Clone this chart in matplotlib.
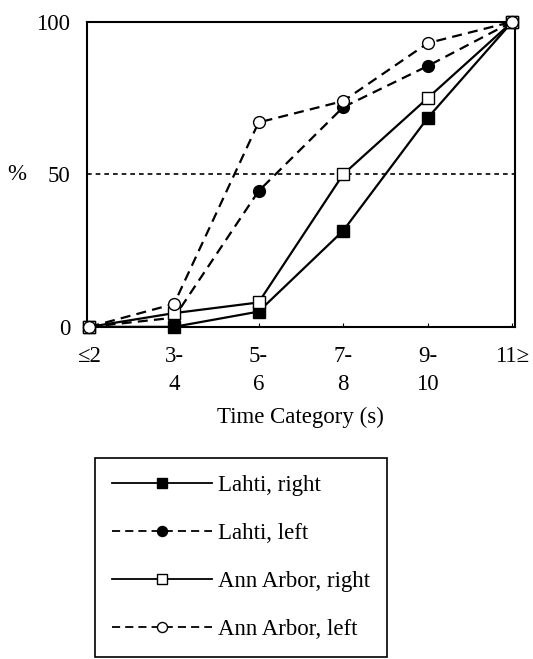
import matplotlib
matplotlib.use('Agg')
import matplotlib.pyplot as plt

plt.rcParams['font.family'] = ['Liberation Serif', 'DejaVu Serif']

# categories on the time axis
categorias = ['≤2', '3-\n4', '5-\n6', '7-\n8', '9-\n10', '11≥']

# cumulative percentages
lahti_direita = [0, 0, 5, 31.5, 68.5, 100]
lahti_esquerda = [0, 3, 44.5, 72, 85.5, 100]
ann_arbor_direita = [0, 4.5, 8, 50, 75, 100]
ann_arbor_esquerda = [0, 7.5, 67, 74, 93, 100]

rotulos = ['Lahti, right', 'Lahti, left', 'Ann Arbor, right', 'Ann Arbor, left']

fig = plt.figure(figsize=(5.33, 6.59), dpi=100)
ax = fig.add_axes([0.163, 0.504, 0.803, 0.463])

x = list(range(len(categorias)))
tam = 16.5
traco = (0, (4.5, 2.8))
lw = 1.6
ms = 8.5

ax.plot(x, lahti_direita, color='black', lw=lw, marker='s', ms=ms,
        mfc='black', mec='black', label=rotulos[0], clip_on=False, zorder=3)
ax.plot(x, lahti_esquerda, color='black', lw=lw, ls=traco, marker='o', ms=ms,
        mfc='black', mec='black', label=rotulos[1], clip_on=False, zorder=4)
ax.plot(x, ann_arbor_direita, color='black', lw=lw, marker='s', ms=ms,
        mfc='white', mec='black', mew=1.0, label=rotulos[2], clip_on=False, zorder=5)
ax.plot(x, ann_arbor_esquerda, color='black', lw=lw, ls=traco, marker='o', ms=ms,
        mfc='white', mec='black', mew=1.0, label=rotulos[3], clip_on=False, zorder=6)

# linha de referencia em 50%
ax.axhline(50, color='black', lw=1.2, ls=(0, (2.8, 2.4)), zorder=1)

ax.set_xlim(-0.03, 5.03)
ax.set_ylim(0, 100)
ax.set_xticks(x)
ax.set_xticklabels(categorias, fontsize=tam, linespacing=1.4)
ax.set_yticks([0, 50, 100])
ax.set_yticklabels(['0', '50', '100'], fontsize=tam)
ax.tick_params(axis='x', direction='in', length=3, width=0.8, pad=14)
ax.tick_params(axis='y', length=0, pad=12)
for s in ax.spines.values():
    s.set_linewidth(1.5)

ax.set_ylabel('%', rotation=0, fontsize=tam, va='center', ha='center')
ax.yaxis.set_label_coords(-0.163, 0.5)
ax.set_xlabel('Time Category (s)', fontsize=tam, va='center')
ax.xaxis.set_label_coords(0.5, -0.297)

leg = ax.legend(loc='upper left', bbox_to_anchor=(95 / 533, 1 - 458 / 659),
                bbox_transform=fig.transFigure, borderaxespad=0,
                fontsize=tam, handlelength=4.35, labelspacing=1.17,
                borderpad=0.76, handletextpad=0.25, markerscale=0.85,
                fancybox=False, framealpha=1, edgecolor='black')
leg.get_frame().set_linewidth(1.2)
for linha in leg.get_lines():
    linha.set_linewidth(1.3)

fig.savefig('out.png', dpi=100, facecolor='white')
